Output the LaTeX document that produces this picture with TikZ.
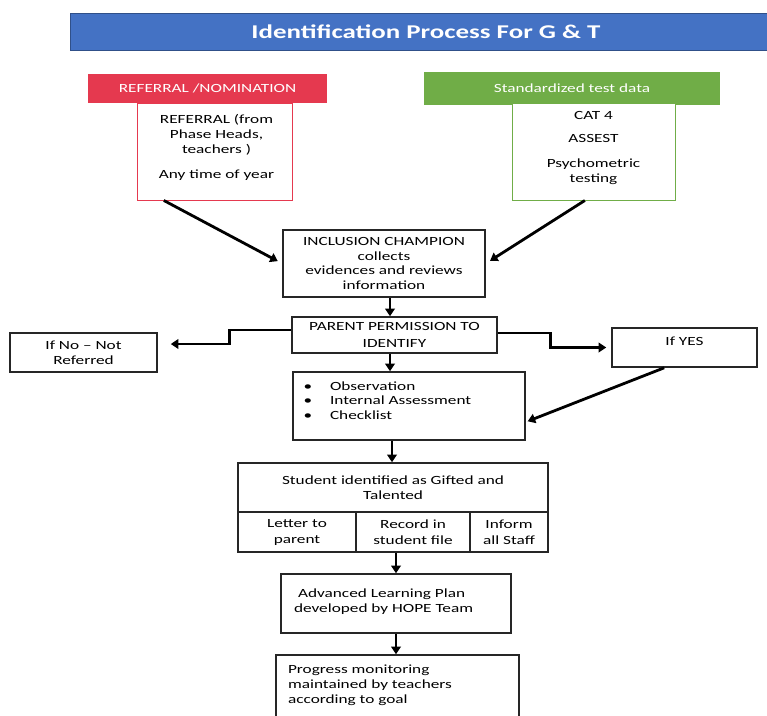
\documentclass[tikz,border=0pt]{standalone}
\usepackage{fontspec}
\setmainfont{Carlito}[FakeStretch=1.38]
\usetikzlibrary{arrows.meta,%
                calc}
\definecolor{titleblue}{HTML}{4472C4}
\definecolor{refred}{HTML}{E5394F}
\definecolor{testgreen}{HTML}{70AD47}

\begin{document}
\begin{tikzpicture}[x=1pt,y=-1pt,font=\fontsize{12.5}{15}\selectfont]
  \tikzstyle{box}=[draw=black!85,line width=1.6pt,fill=white,inner sep=0pt,align=center]
  \tikzstyle{head}=[inner sep=0pt,text=white]
  \tikzstyle{arr}=[line width=2.8pt,-{Triangle[length=7.5pt,width=9.5pt]}]
  \useasboundingbox (0,0) rectangle (767,715);
  \node[head,fill=titleblue,draw=titleblue!70!black,line width=0.8pt,
        minimum width=712pt,minimum height=37pt,
        font=\fontsize{19.5}{22}\bfseries\selectfont] (title) at (426,31.5) {Identification Process For G \& T};
  % sources
  \node[head,fill=refred,minimum width=239pt,minimum height=29pt] (refhead) at (207.5,88.5) {REFERRAL /NOMINATION};
  \node[head,fill=testgreen,minimum width=296pt,minimum height=33pt] (testhead) at (572,88.5) {Standardized test data};
  \node[box,draw=refred,line width=0.9pt,minimum width=155pt,minimum height=97pt] (refbox) at (214.5,151.5) {};
  \node[anchor=north,align=center] (reftext) at ($(refbox.north)+(2,8)$) {REFERRAL (from\\Phase Heads,\\teachers )\\[10pt]Any time of year};
  \node[box,draw=testgreen,line width=0.9pt,minimum width=163pt,minimum height=97pt] (testbox) at (593.5,151.5) {};
  \node[anchor=north,align=center] (testtext) at ($(testbox.north)+(0,5)$) {CAT 4\\[8pt]ASSEST\\[10pt]Psychometric\\testing};
  % steps
  \node[box,minimum width=202pt,minimum height=67pt,font=\fontsize{12.5}{14.5}\selectfont] (incl) at (384,263.5) {INCLUSION CHAMPION\\collects\\evidences and reviews\\information};
  \node[box,minimum width=205pt,minimum height=36pt] (parent) at (394.5,335) {PARENT PERMISSION TO\\[2pt]IDENTIFY};
  \node[box,minimum width=147pt,minimum height=39pt] (nobox) at (83.5,352.5) {If No -- Not\\Referred};
  \node[box,minimum width=145pt,minimum height=39pt] (yesbox) at (684.5,347.5) {};
  \node[anchor=north] (yestext) at ($(yesbox.north)+(0,6)$) {If YES};
  \node[box,minimum width=232pt,minimum height=68pt] (bullets) at (409,406) {};
  \node[anchor=north west,align=left,font=\fontsize{12.5}{14.5}\selectfont] (bullettext) at (300,378)
    {\makebox[26.5pt][l]{\textbullet}Observation\\\makebox[26.5pt][l]{\textbullet}Internal Assessment\\\makebox[26.5pt][l]{\textbullet}Checklist};
  \node[box,minimum width=310pt,minimum height=49pt] (student) at (393,487.5) {Student identified as Gifted and\\Talented};
  \node[box,minimum width=118pt,minimum height=40pt] (letter) at (297,532) {Letter to\\[1pt]parent};
  \node[box,minimum width=114pt,minimum height=40pt] (recfile) at (413,532) {Record in\\[1pt]student file};
  \node[box,minimum width=78pt,minimum height=40pt] (inform) at (509,532) {Inform\\[1pt]all Staff};
  \node[box,minimum width=230pt,minimum height=59pt] (advanced) at (396,603.5) {};
  \node[anchor=north west,align=left] (advtext) at (290.5,585) {\hspace{4pt}Advanced Learning Plan\\developed by HOPE Team};
  \node[box,minimum width=243pt,minimum height=80pt] (progress) at (397.5,695) {};
  \node[anchor=north west,align=left] (progtext) at (284.5,661) {Progress monitoring\\maintained by teachers\\according to goal};
  % connectors
  \draw[arr,shorten >=5pt] (refbox.224) -- (incl.west);
  \draw[arr,shorten >=5pt] (testbox.260) -- (incl.east);
  \draw[arr] ([xshift=6pt]incl.south) -- ([xshift=6pt]incl.south |- parent.north);
  \draw[arr] ([yshift=5pt]parent.west) -- ++(-62,0) |- ([xshift=13pt,yshift=8.5pt]nobox.east);
  \draw[arr,shorten >=5pt] ([yshift=2pt]parent.east) -- ++(53,0) |- (yesbox.west);
  \draw[arr,shorten >=2pt] (yesbox.225) -- ([yshift=-16pt]bullets.east);
  \draw[arr] ([xshift=-4.5pt]parent.south) -- ([xshift=-4.5pt]parent.south |- bullets.north);
  \draw[arr] ([xshift=-17pt]bullets.south) -- ([xshift=-17pt]bullets.south |- student.north);
  \draw[arr] (advanced.north |- recfile.south) -- (advanced.north);
  \draw[arr] (advanced.south) -- (advanced.south |- progress.north);
\end{tikzpicture}
\end{document}
